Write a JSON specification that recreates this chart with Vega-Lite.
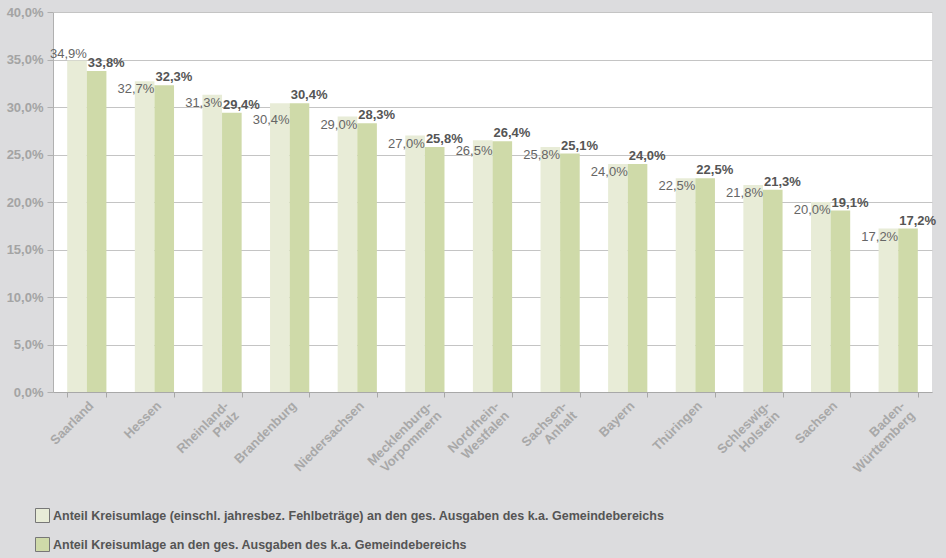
{
  "$schema": "https://vega.github.io/schema/vega-lite/v6.json",
  "autosize": {"type": "none"},
  "padding": {"left": 53, "top": 12, "right": 14, "bottom": 166},
  "width": 879,
  "height": 380,
  "background": "#dcdcde",
  "data": {
    "values": [
      {"land": "Saarland", "serie": "A", "wert": 0.349},
      {"land": "Saarland", "serie": "B", "wert": 0.338},
      {"land": "Hessen", "serie": "A", "wert": 0.327},
      {"land": "Hessen", "serie": "B", "wert": 0.323},
      {"land": "Rheinland-Pfalz", "serie": "A", "wert": 0.313},
      {"land": "Rheinland-Pfalz", "serie": "B", "wert": 0.294},
      {"land": "Brandenburg", "serie": "A", "wert": 0.304},
      {"land": "Brandenburg", "serie": "B", "wert": 0.304},
      {"land": "Niedersachsen", "serie": "A", "wert": 0.290},
      {"land": "Niedersachsen", "serie": "B", "wert": 0.283},
      {"land": "Mecklenburg-Vorpommern", "serie": "A", "wert": 0.270},
      {"land": "Mecklenburg-Vorpommern", "serie": "B", "wert": 0.258},
      {"land": "Nordrhein-Westfalen", "serie": "A", "wert": 0.265},
      {"land": "Nordrhein-Westfalen", "serie": "B", "wert": 0.264},
      {"land": "Sachsen-Anhalt", "serie": "A", "wert": 0.258},
      {"land": "Sachsen-Anhalt", "serie": "B", "wert": 0.251},
      {"land": "Bayern", "serie": "A", "wert": 0.240},
      {"land": "Bayern", "serie": "B", "wert": 0.240},
      {"land": "Thüringen", "serie": "A", "wert": 0.225},
      {"land": "Thüringen", "serie": "B", "wert": 0.225},
      {"land": "Schleswig-Holstein", "serie": "A", "wert": 0.218},
      {"land": "Schleswig-Holstein", "serie": "B", "wert": 0.213},
      {"land": "Sachsen", "serie": "A", "wert": 0.200},
      {"land": "Sachsen", "serie": "B", "wert": 0.191},
      {"land": "Baden-Württemberg", "serie": "A", "wert": 0.172},
      {"land": "Baden-Württemberg", "serie": "B", "wert": 0.172}
    ]
  },
  "encoding": {
    "x": {
      "field": "land",
      "type": "nominal",
      "sort": null,
      "scale": {"paddingInner": 0.42, "paddingOuter": 0.21},
      "axis": {
        "title": null,
        "labelAngle": -45,
        "labelAlign": "right",
        "labelBaseline": "top",
        "labelExpr": "split(replace(datum.label, '-', '-\\n'), '\\n')",
        "labelLineHeight": 14,
        "labelFont": "Liberation Sans",
        "labelFontSize": 13,
        "labelFontWeight": "bold",
        "labelColor": "#a8a8a8",
        "labelPadding": 2,
        "tickBand": "extent",
        "tickSize": 5,
        "tickColor": "#a8a8a8",
        "domainColor": "#a8a8a8",
        "grid": false
      }
    },
    "y": {
      "field": "wert",
      "type": "quantitative",
      "scale": {"domain": [0, 0.4], "nice": false},
      "axis": {
        "title": null,
        "values": [0, 0.05, 0.1, 0.15, 0.2, 0.25, 0.3, 0.35, 0.4],
        "format": ".1%",
        "labelFont": "Liberation Sans",
        "labelFontSize": 13,
        "labelFontWeight": "bold",
        "labelColor": "#a4a4a4",
        "labelPadding": 4,
        "tickSize": 6,
        "tickColor": "#b0b0b0",
        "domainColor": "#b0b0b0",
        "grid": true,
        "gridColor": "#c4c4c4",
        "gridWidth": 1
      }
    }
  },
  "layer": [
    {
      "mark": {"type": "bar"},
      "encoding": {
        "xOffset": {"field": "serie", "type": "nominal", "scale": {"paddingInner": 0, "paddingOuter": 0}},
        "color": {
          "field": "serie",
          "type": "nominal",
          "scale": {"domain": ["A", "B"], "range": ["#e8ecd7", "#cfdaa9"]},
          "legend": {
            "title": null,
            "orient": "none",
            "legendX": -18,
            "legendY": 496,
            "direction": "vertical",
            "symbolType": "square",
            "symbolSize": 196,
            "symbolStrokeColor": "#777777",
            "symbolStrokeWidth": 1,
            "symbolOpacity": 1,
            "rowPadding": 10,
            "labelOffset": 3,
            "labelLimit": 0,
            "labelFont": "Liberation Sans",
            "labelFontSize": 12.5,
            "labelFontWeight": "bold",
            "labelColor": "#555555",
            "labelExpr": "datum.value == 'A' ? 'Anteil Kreisumlage (einschl. jahresbez. Fehlbeträge) an den ges. Ausgaben des k.a. Gemeindebereichs' : 'Anteil Kreisumlage an den ges. Ausgaben des k.a. Gemeindebereichs'"
          }
        }
      }
    },
    {
      "transform": [{"filter": "datum.serie == 'A'"}],
      "mark": {"type": "text", "align": "right", "baseline": "middle", "dx": 0, "dy": {"expr": "datum.land == 'Brandenburg' ? 17 : datum.land == 'Saarland' ? -6 : datum.land == 'Nordrhein-Westfalen' ? 11 : 8"}, "font": "Liberation Sans", "fontSize": 13, "color": "#666666"},
      "encoding": {"text": {"field": "wert", "type": "quantitative", "format": ".1%"}}
    },
    {
      "transform": [{"filter": "datum.serie == 'B'"}],
      "mark": {"type": "text", "align": "left", "baseline": "bottom", "dx": 1, "dy": -1, "font": "Liberation Sans", "fontSize": 13, "fontWeight": "bold", "color": "#555555"},
      "encoding": {"text": {"field": "wert", "type": "quantitative", "format": ".1%"}}
    }
  ],
  "config": {
    "locale": {"number": {"decimal": ",", "thousands": ".", "grouping": [3], "currency": ["", " €"]}},
    "view": {"fill": "white", "stroke": null}
  }
}
